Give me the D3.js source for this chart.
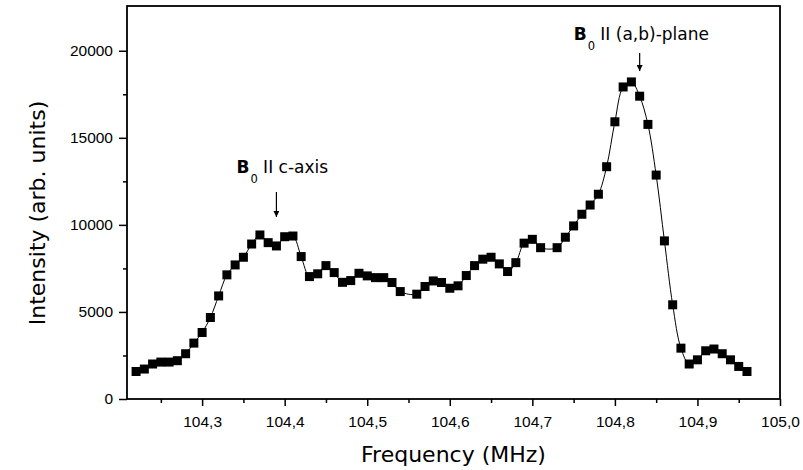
<!DOCTYPE html>
<html lang="en">
<head>
    <meta charset="UTF-8">
    <title>NMR spectrum</title>
    <script src="https://d3js.org/d3.v7.min.js"></script>
    <style>
        body { margin: 0; background: #fff; }
        svg { display: block; font-family: "DejaVu Sans", sans-serif; }
        .axis text { font-size: 15.5px; fill: #000; }
        .axis line { stroke: #000; stroke-width: 1.5px; }
    </style>
</head>
<body>
    <svg id="chart"></svg>

    <script>
        // Data (frequency in MHz, intensity in arb. units)
        const freq = [104.22, 104.23, 104.24, 104.25, 104.26, 104.27, 104.28, 104.29, 104.30, 104.31,
                      104.32, 104.33, 104.34, 104.35, 104.36, 104.37, 104.38, 104.39, 104.40, 104.41,
                      104.42, 104.43, 104.44, 104.45, 104.46, 104.47, 104.48, 104.49, 104.50, 104.51,
                      104.52, 104.53, 104.54, 104.56, 104.57, 104.58, 104.59, 104.60, 104.61,
                      104.62, 104.63, 104.64, 104.65, 104.66, 104.67, 104.68, 104.69, 104.70, 104.71,
                      104.73, 104.74, 104.75, 104.76, 104.77, 104.78, 104.79, 104.80, 104.81,
                      104.82, 104.83, 104.84, 104.85, 104.86, 104.87, 104.88, 104.89, 104.90, 104.91,
                      104.92, 104.93, 104.94, 104.95, 104.96];
        const intensity = [1580, 1720, 2010, 2120, 2120, 2200, 2600, 3210, 3820, 4680,
                           5920, 7130, 7700, 8140, 8900, 9420, 8980, 8790, 9320, 9360,
                           8180, 7030, 7190, 7660, 7260, 6700, 6800, 7220, 7070, 6970,
                           6970, 6690, 6170, 6020, 6460, 6780, 6690, 6360, 6500,
                           7090, 7660, 8030, 8140, 7760, 7320, 7830, 8950, 9170, 8690,
                           8690, 9290, 9940, 10610, 11140, 11760, 13340, 15920, 17920,
                           18210, 17390, 15770, 12860, 9080, 5410, 2920, 2010, 2250, 2770,
                           2870, 2600, 2250, 1870, 1580];

        const xTicks = [104.3, 104.4, 104.5, 104.6, 104.7, 104.8, 104.9, 105.0];
        const xMinor = [104.25, 104.35, 104.45, 104.55, 104.65, 104.75, 104.85, 104.95];
        const yTicks = [0, 5000, 10000, 15000, 20000];
        const yMinor = [2500, 7500, 12500, 17500];

        // annotations: subscript, rest of label, frequency of the arrow
        const notes = [
            { sub: "0", rest: " II c-axis", at: 104.39, dx: -40, textY: 173, y1: 192, y2: 217 },
            { sub: "0", rest: " II (a,b)-plane", at: 104.83, dx: -66, textY: 40, y1: 53, y2: 71 }
        ];

        const width = 803, height = 470;
        const margin = { top: 6, right: 23, bottom: 71, left: 127 };
        const innerW = width - margin.left - margin.right;
        const innerH = height - margin.top - margin.bottom;

        const svg = d3.select("#chart")
            .attr("width", width)
            .attr("height", height);

        const g = svg.append("g")
            .attr("transform", `translate(${margin.left},${margin.top})`);

        const x = d3.scaleLinear().domain([104.209, 105.0]).range([0, innerW]);
        const y = d3.scaleLinear().domain([0, 22570]).range([innerH, 0]);

        const fmt = d => d3.format(".1f")(d).replace(".", ",");

        // x axis, major + minor ticks
        g.append("g").attr("class", "axis")
            .attr("transform", `translate(0,${innerH})`)
            .call(d3.axisBottom(x).tickValues(xTicks).tickFormat(fmt).tickSize(7).tickPadding(10))
            .call(a => a.select(".domain").remove());
        g.append("g").attr("class", "axis")
            .attr("transform", `translate(0,${innerH})`)
            .call(d3.axisBottom(x).tickValues(xMinor).tickFormat("").tickSize(4))
            .call(a => a.select(".domain").remove());

        // y axis, major + minor ticks
        g.append("g").attr("class", "axis")
            .call(d3.axisLeft(y).tickValues(yTicks).tickFormat(d3.format("d")).tickSize(8).tickPadding(6))
            .call(a => a.select(".domain").remove());
        g.append("g").attr("class", "axis")
            .call(d3.axisLeft(y).tickValues(yMinor).tickFormat("").tickSize(4))
            .call(a => a.select(".domain").remove());

        // frame
        g.append("rect")
            .attr("width", innerW)
            .attr("height", innerH)
            .attr("fill", "none")
            .attr("stroke", "#000")
            .attr("stroke-width", 1.8);

        const points = freq.map((f, i) => ({ f: f, v: intensity[i] }));

        // smooth line through the points
        const line = d3.line()
            .x(d => x(d.f))
            .y(d => y(d.v))
            .curve(d3.curveCatmullRom.alpha(0.5));

        g.append("path")
            .datum(points)
            .attr("d", line)
            .attr("fill", "none")
            .attr("stroke", "#000")
            .attr("stroke-width", 1);

        // square markers
        const s = 9;
        g.selectAll(".pt")
            .data(points)
            .enter().append("rect")
            .attr("class", "pt")
            .attr("x", d => x(d.f) - s / 2)
            .attr("y", d => y(d.v) - s / 2)
            .attr("width", s)
            .attr("height", s)
            .attr("fill", "#000");

        // annotations with arrows
        svg.append("defs").append("marker")
            .attr("id", "head")
            .attr("viewBox", "0 0 10 10")
            .attr("refX", 10).attr("refY", 5)
            .attr("markerWidth", 8).attr("markerHeight", 6)
            .attr("markerUnits", "userSpaceOnUse")
            .attr("orient", "auto")
            .append("path")
            .attr("d", "M0,0 L10,5 L0,10 Z")
            .attr("fill", "#000");

        notes.forEach(n => {
            const ax = margin.left + x(n.at);
            const t = svg.append("text")
                .attr("x", ax + n.dx)
                .attr("y", n.textY)
                .attr("font-size", 17);
            t.append("tspan").attr("font-weight", "bold").text("B");
            t.append("tspan").attr("font-size", 11.5).attr("dx", 1).attr("dy", 10).text(n.sub);
            t.append("tspan").attr("dy", -10).text(n.rest);

            svg.append("line")
                .attr("x1", ax).attr("x2", ax)
                .attr("y1", n.y1).attr("y2", n.y2)
                .attr("stroke", "#000")
                .attr("stroke-width", 1.2)
                .attr("marker-end", "url(#head)");
        });

        // axis titles
        svg.append("text")
            .attr("x", margin.left + innerW / 2)
            .attr("y", 462)
            .attr("text-anchor", "middle")
            .attr("font-size", 22)
            .text("Frequency  (MHz)");

        svg.append("text")
            .attr("transform", "translate(45,213) rotate(-90)")
            .attr("text-anchor", "middle")
            .attr("font-size", 22)
            .text("Intensity  (arb. units)");
    </script>
</body>
</html>
